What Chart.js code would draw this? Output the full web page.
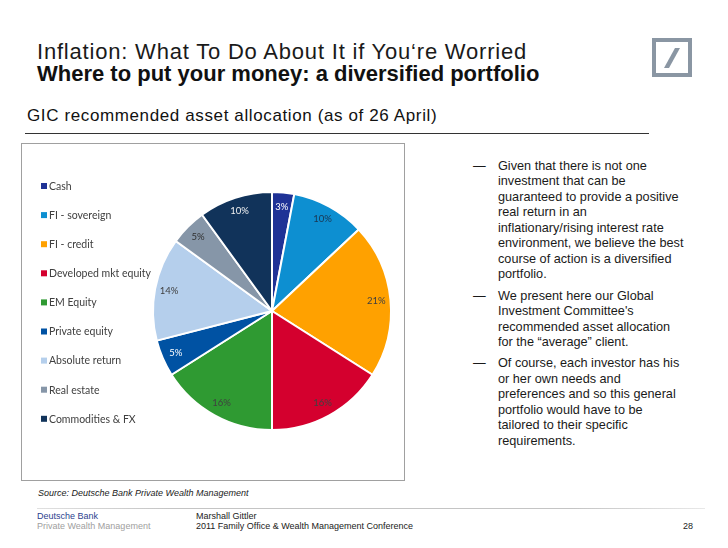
<!DOCTYPE html>
<html>
<head>
<meta charset="utf-8">
<script src="https://cdn.jsdelivr.net/npm/chart.js@4.4.0/dist/chart.umd.min.js"></script>
<style>
  html, body { margin:0; padding:0; background:#fff; }
  #page { position:relative; width:728px; height:548px; overflow:hidden; background:#fff;
          font-family:"Liberation Sans", Arial, sans-serif; color:#111; }
  .abs { position:absolute; white-space:nowrap; line-height:1; }
  #t1 { left:37px; top:41px; font-size:22px; letter-spacing:0.8px; color:#1a1a1a; }
  #t2 { left:37px; top:63px; font-size:22px; font-weight:bold; color:#111; }
  #t3 { left:27px; top:107px; font-size:17px; letter-spacing:0.62px; color:#111; }
  #rule { left:25px; top:133px; width:624px; height:0; border-top:1px solid #333; }
  #logo { left:652px; top:38px; width:32px; height:31px; border:4px solid #8a96a3; }
  #frame { left:21px; top:143px; width:382px; height:336px; border:1px solid #a0a0a0; }
  #chartbox { position:absolute; left:22px; top:144px; width:382px; height:336px; }
  #bullets { position:absolute; left:473px; top:159px; font-size:12.7px; line-height:15.45px; color:#1a1a1a; }
  .b { position:relative; padding-left:25px; margin-bottom:6px; }
  .b .d { position:absolute; left:0; top:0; }
  #src { left:38px; top:489px; font-size:9px; font-style:italic; color:#222; }
  #frule { left:37px; top:508px; width:668px; height:1px;
           background:linear-gradient(to right, #e0e0e0, #c4c4c4 20%, #c4c4c4 80%, #e8e8e8); }
  .f { font-size:9px; }
</style>
</head>
<body>
<div id="page">
  <div class="abs" id="t1">Inflation: What To Do About It if You‘re Worried</div>
  <div class="abs" id="t2">Where to put your money: a diversified portfolio</div>
  <div class="abs" id="t3">GIC recommended asset allocation (as of 26 April)</div>
  <div class="abs" id="rule"></div>
  <div class="abs" id="logo">
    <svg width="32" height="31" style="position:absolute;left:0;top:0">
      <polygon points="8,26 13,26 24,6 19,6" fill="#8a96a3"/>
    </svg>
  </div>
  <div class="abs" id="frame"></div>
  <div id="chartbox"><canvas id="c"></canvas></div>
  <div id="bullets">
    <div class="b"><span class="d">—</span>Given that there is not one<br>investment that can be<br>guaranteed to provide a positive<br>real return in an<br>inflationary/rising interest rate<br>environment, we believe the best<br>course of action is a diversified<br>portfolio.</div>
    <div class="b"><span class="d">—</span>We present here our Global<br>Investment Committee's<br>recommended asset allocation<br>for the “average” client.</div>
    <div class="b"><span class="d">—</span>Of course, each investor has his<br>or her own needs and<br>preferences and so this general<br>portfolio would have to be<br>tailored to their specific<br>requirements.</div>
  </div>
  <div class="abs" id="src">Source: Deutsche Bank Private Wealth Management</div>
  <div class="abs" id="frule"></div>
  <div class="abs f" style="left:37px;top:512px;color:#2d3f8f;">Deutsche Bank</div>
  <div class="abs f" style="left:37px;top:522px;color:#a0a0a0;">Private Wealth Management</div>
  <div class="abs f" style="left:196px;top:512px;color:#222;">Marshall Gittler</div>
  <div class="abs f" style="left:196px;top:522px;color:#222;">2011 Family Office &amp; Wealth Management Conference</div>
  <div class="abs f" style="left:683px;top:522px;color:#222;">28</div>
</div>
<script>
// ---- data ----
const categories = ["Cash", "FI - sovereign", "FI - credit", "Developed mkt equity", "EM Equity",
                    "Private equity", "Absolute return", "Real estate", "Commodities & FX"];
const allocation = [3, 10, 21, 16, 16, 5, 14, 5, 10];
const sliceLabels = ["3%", "10%", "21%", "16%", "16%", "5%", "14%", "5%", "10%"];

// ---- styles ----
const sliceColors = ["#1f3296", "#0d8fd1", "#ffa100", "#d4002e", "#2f9a32",
                     "#0052a3", "#b5cfec", "#8696a8", "#11335a"];
const labelColors = ["#ffffff", "#1b3550", "#404040", "#404040", "#404040",
                     "#ffffff", "#404040", "#303030", "#f0f0f0"];

const overlay = {
  id: 'overlay',
  afterDraw(chart) {
    const ctx = chart.ctx;
    const ds = chart.data.datasets[0];
    // legend
    ctx.save();
    ctx.font = '10.5px Lato, "Noto Sans", sans-serif';
    ctx.textBaseline = 'middle';
    chart.data.labels.forEach((lab, i) => {
      const y = 42 + i * 29.1;
      ctx.fillStyle = ds.backgroundColor[i];
      ctx.fillRect(19, y - 3, 6, 6);
      ctx.fillStyle = '#404040';
      ctx.fillText(lab, 27, y + 0.5);
    });
    // slice labels
    ctx.font = '9.5px Lato, "Noto Sans", sans-serif';
    ctx.textAlign = 'center';
    const meta = chart.getDatasetMeta(0);
    meta.data.forEach((arc, i) => {
      const p = arc.getProps(['x', 'y', 'startAngle', 'endAngle', 'outerRadius'], true);
      const a = (p.startAngle + p.endAngle) / 2;
      const r = p.outerRadius * 0.88;
      ctx.fillStyle = labelColors[i];
      ctx.fillText(sliceLabels[i], p.x + Math.cos(a) * r, p.y + Math.sin(a) * r);
    });
    ctx.restore();
  }
};

new Chart(document.getElementById('c'), {
  type: 'pie',
  data: {
    labels: categories,
    datasets: [{
      data: allocation,
      backgroundColor: sliceColors,
      borderColor: '#ffffff',
      borderWidth: 2
    }]
  },
  options: {
    responsive: true,
    maintainAspectRatio: false,
    animation: false,
    layout: { padding: { left: 130, right: 12, top: 47, bottom: 49 } },
    plugins: {
      legend: { display: false },
      tooltip: { enabled: false }
    }
  },
  plugins: [overlay]
});
</script>
</body>
</html>
